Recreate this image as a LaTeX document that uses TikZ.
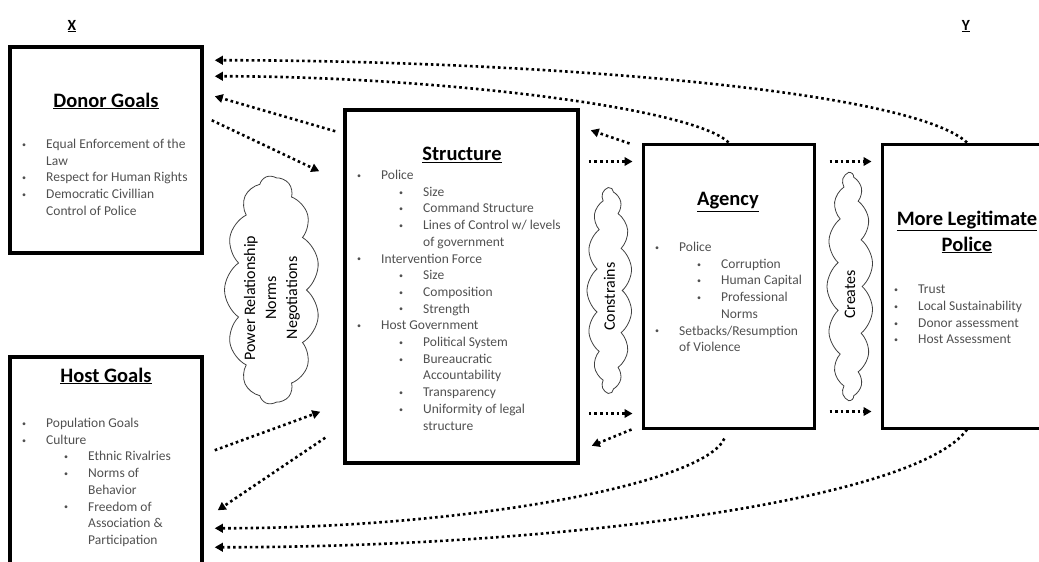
\documentclass[tikz,border=0pt]{standalone}
\usepackage{fontspec}
\setmainfont{Carlito}
\usetikzlibrary{arrows.meta,shapes.symbols}
\definecolor{bodygray}{RGB}{80,80,80}

\newcommand{\blt}{\raisebox{1.2pt}{\fontsize{8}{8}\selectfont\textbullet}}
\newcommand{\lone}[1]{\makebox[24pt][l]{\blt}#1}
\newcommand{\lonec}[1]{\hspace*{24pt}#1}
\newcommand{\ltwo}[1]{\hspace*{42pt}\makebox[24pt][l]{\blt}#1}
\newcommand{\ltwoc}[1]{\hspace*{66pt}#1}

\begin{document}
\begin{tikzpicture}[x=1pt,y=-1pt,
	box/.style={draw, line width=3pt, inner sep=0pt},
	head/.style={font=\fontsize{20.5}{26}\selectfont\bfseries, inner sep=0pt, align=center},
	listtext/.style={font=\fontsize{13.5}{16.7}\selectfont, text=bodygray, align=left, anchor=north west, inner sep=0pt},
	puff/.style={cloud, cloud ignores aspect, draw=black!75, line width=0.8pt, rotate=90},
	cloudtext/.style={font=\fontsize{16}{21}\selectfont, align=center, rotate=90, inner sep=0pt},
	flow/.style={line width=2.6pt, dash pattern=on 2.6pt off 3pt, -{Triangle[length=8pt,width=8.5pt]}}]
	%\draw[help lines,step=50] (0,0) grid (1039,562);
	\useasboundingbox (0,0) rectangle (1039,562);
	\clip (0,0) rectangle (1039,562);
	
	\node[font=\fontsize{15.5}{18}\selectfont\bfseries] (xlab) at (72,26) {\underline{X}};
	\node[font=\fontsize{15.5}{18}\selectfont\bfseries] (ylab) at (966,26) {\underline{Y}};
	
	\node[box, line width=3.5pt, minimum width=192pt, minimum height=206pt] (donor) at (106,150) {};
	\node[box, line width=3.5pt, minimum width=192pt, minimum height=243pt] (host) at (106,478.5) {};
	\node[box, line width=3.5pt, minimum width=233pt, minimum height=353pt] (struct) at (461.5,286.5) {};
	\node[box, minimum width=171pt, minimum height=284pt] (agency) at (728.5,286) {};
	\node[box, minimum width=170pt, minimum height=284pt] (legit) at (967,286) {};
	
	\node[head] (donorhead) at (106,101) {\underline{Donor Goals}};
	\node[listtext] (donorlist) at (22,139) {
		\lone{Equal Enforcement of the}\\
		\lonec{Law}\\
		\lone{Respect for Human Rights}\\
		\lone{Democratic Civillian}\\
		\lonec{Control of Police}};
	
	\node[head] (hosthead) at (106,376) {\underline{Host Goals}};
	\node[listtext] (hostlist) at (22,418) {
		\lone{Population Goals}\\
		\lone{Culture}\\
		\ltwo{Ethnic Rivalries}\\
		\ltwo{Norms of}\\
		\ltwoc{Behavior}\\
		\ltwo{Freedom of}\\
		\ltwoc{Association \&}\\
		\ltwoc{Participation}};
	
	\node[head] (structhead) at (462,155) {\underline{Structure}};
	\node[listtext] (structlist) at (357,170) {
		\lone{Police}\\
		\ltwo{Size}\\
		\ltwo{Command Structure}\\
		\ltwo{Lines of Control w/ levels}\\
		\ltwoc{of government}\\
		\lone{Intervention Force}\\
		\ltwo{Size}\\
		\ltwo{Composition}\\
		\ltwo{Strength}\\
		\lone{Host Government}\\
		\ltwo{Political System}\\
		\ltwo{Bureaucratic}\\
		\ltwoc{Accountability}\\
		\ltwo{Transparency}\\
		\ltwo{Uniformity of legal}\\
		\ltwoc{structure}};
	
	\node[head] (agencyhead) at (728,202) {\underline{Agency}};
	\node[listtext] (agencylist) at (655,242) {
		\lone{Police}\\
		\ltwo{Corruption}\\
		\ltwo{Human Capital}\\
		\ltwo{Professional}\\
		\ltwoc{Norms}\\
		\lone{Setbacks/Resumption}\\
		\lonec{of Violence}};
	
	\node[head] (legithead) at (967,232) {\underline{More Legitimate}\\\underline{Police}};
	\node[listtext] (legitlist) at (894,285) {
		\lone{Trust}\\
		\lone{Local Sustainability}\\
		\lone{Donor assessment}\\
		\lone{Host Assessment}};
	
	\node[puff, cloud puffs=13, cloud puff arc=110, minimum width=228pt, minimum height=95pt] (powercloud) at (272,290) {};
	\node[cloudtext] (powertext) at ([yshift=-8pt]powercloud.center) {Power Relationship\\Norms\\Negotiations};
	\node[puff, cloud puffs=15, cloud puff arc=100, minimum width=205pt, minimum height=45pt] (constrcloud) at (609.5,290.5) {};
	\node[cloudtext] (constrtext) at ([yshift=-6pt]constrcloud.center) {Constrains};
	\node[puff, cloud puffs=15, cloud puff arc=100, minimum width=227pt, minimum height=46pt] (createcloud) at (850,286.5) {};
	\node[cloudtext] (createtext) at ([yshift=-8pt]createcloud.center) {Creates};
	
	\coordinate (satop) at ([yshift=-19pt]agency.north west);
	\coordinate (sabot) at ([yshift=16pt]agency.south west);
	\coordinate (altop) at ([yshift=-19pt]legit.north west);
	\coordinate (albot) at ([yshift=18pt]legit.south west);
	
	\draw[flow] ([shift={(-8pt,-23pt)}]struct.north west) -- ([shift={(11pt,-51pt)}]donor.north east);
	\draw[flow] ([shift={(8pt,-75pt)}]donor.north east) -- ([shift={(-24pt,-63pt)}]struct.north west);
	\draw[flow] ([shift={(11pt,-95pt)}]host.north east) -- ([shift={(-23pt,53pt)}]struct.south west);
	\draw[flow] ([shift={(-18pt,27pt)}]struct.south west) -- ([shift={(14pt,-155pt)}]host.north east);
	
	\draw[flow, shorten <=9pt, shorten >=9pt] (struct.east |- satop) -- (satop);
	\draw[flow, shorten <=9pt, shorten >=9pt] (struct.east |- sabot) -- (sabot);
	\draw[flow] ([shift={(-12pt,-1pt)}]agency.north west) -- ([shift={(11pt,-22pt)}]struct.north east);
	\draw[flow] ([shift={(-10pt,0pt)}]agency.south west) -- ([shift={(12pt,19pt)}]struct.south east);
	
	\draw[flow, shorten <=14pt, shorten >=9pt] (agency.east |- altop) -- (altop);
	\draw[flow, shorten <=14pt, shorten >=9pt] (agency.east |- albot) -- (albot);
	
	\draw[flow] (legit.north) .. controls +(-60,-55) and +(300,0) .. ([shift={(11pt,-15pt)}]donor.north east);
	\draw[flow] (agency.north) .. controls +(-35,-35) and +(220,0) .. ([shift={(11pt,-31pt)}]donor.north east);
	\draw[flow, shorten <=10pt] (agency.south) .. controls +(-25,55) and +(250,0) .. ([shift={(11pt,-173pt)}]host.north east);
	\draw[flow] (legit.south) .. controls +(-50,70) and +(350,0) .. ([shift={(11pt,-192pt)}]host.north east);
	
\end{tikzpicture}
\end{document}
